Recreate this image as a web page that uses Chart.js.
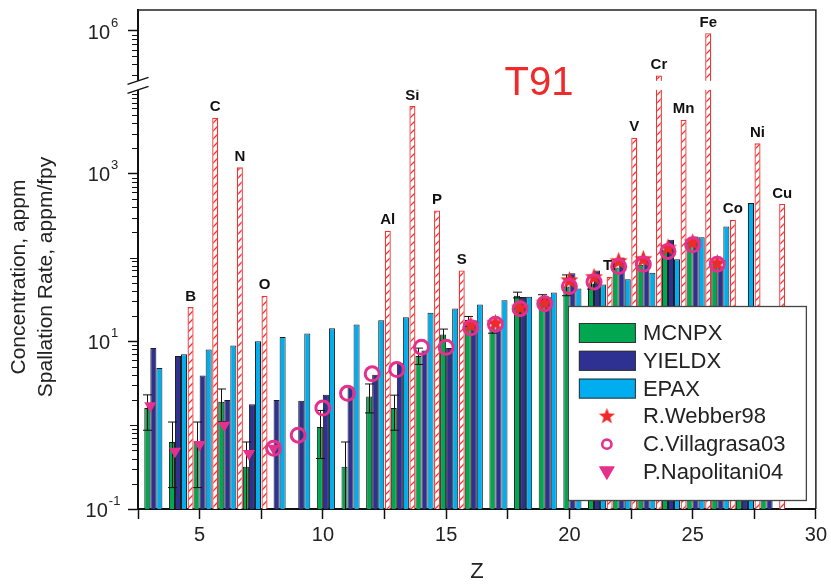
<!DOCTYPE html>
<html>
<head>
<meta charset="utf-8">
<script src="https://cdn.jsdelivr.net/npm/chart.js@4.4.1/dist/chart.umd.min.js"></script>
<style>
  html, body { margin: 0; padding: 0; background: #fff; }
  canvas { display: block; }
</style>
</head>
<body>
<canvas id="chart" width="831" height="585"></canvas>
<script>
// columns: atomic number Z, 3 (Li) .. 29 (Cu)
const zValues = [3, 4, 5, 6, 7, 8, 9, 10, 11, 12, 13, 14, 15, 16, 17, 18, 19, 20, 21, 22, 23, 24, 25, 26, 27, 28, 29];
const mcnpx = [1.6, 0.63, 0.64, 1.9, 0.32, null, null, 0.95, 0.32, 2.2, 1.6, 6.7, 12.1, 18, 14.3, 35, 33, 45, 49, 76, 82, 125, 150, 85, 15, 10, null];
const mcnpxLow = [0.87, 0.18, 0.18, 1.1, 0.09, null, null, 0.4, 0.09, 1.4, 0.87, 5.3, 10.1, 15, 12.5, 33, 30, 35, 42, null, null, null, null, null, null, null, null];
const mcnpxHigh = [2.3, 1.09, 1.09, 2.7, 0.63, null, null, 1.5, 0.63, 3.1, 2.28, 8.3, 14.0, 19.8, 16.2, 38.6, 36, 62, 58, null, null, null, null, null, null, null, null];
const yieldx = [8.3, 6.7, 3.9, 2.0, 1.78, 2.0, 1.95, 2.3, 2.9, 4.0, 5.5, 7.8, 8.3, 17.8, 14.3, 33.7, 33.7, 65, 70, 100, 95, 163, 178, 78, 20, 12, null];
const epax = [4.8, 7.0, 8.0, 8.9, 10, 11.3, 12.4, 14.3, 15.9, 17.8, 19.4, 22, 24.7, 27.6, 30.9, 34, 38.3, 42.7, 47.6, 55, 66, 95, 175, 235, 446, null, null];

// measured concentrations in T91 (hatched bars)
const measZ = [5, 6, 7, 8, 13, 14, 15, 16, 22, 23, 24, 25, 26, 27, 28, 29];
const measNames = ["B", "C", "N", "O", "Al", "Si", "P", "S", "Ti", "V", "Cr", "Mn", "Fe", "Co", "Ni", "Cu"];
const measured = [25.6, 4650, 1190, 35, 209, 6400, 363, 70, 59, 2690, 2.94e5, 4390, 9.4e5, 283, 2300, 435];

// experiments
const webberZ = [16, 17, 18, 19, 20, 21, 22, 23, 24, 25, 26];
const webber = [15.5, 16.4, 25, 28.5, 53, 58, 90, 95, 130, 150, 85];
const villagrasaZ = [8, 9, 10, 11, 12, 13, 14, 15, 16, 17, 18, 19, 20, 21, 22, 23, 24, 25, 26];
const villagrasa = [0.53, 0.76, 1.6, 2.4, 4.1, 4.6, 8.5, 8.5, 14.5, 16, 24.5, 28, 45, 51, 78, 83, 118, 142, 83];
const napolitaniZ = [3, 4, 5, 6, 7, 8];
const napolitani = [1.7, 0.49, 0.59, 1.0, 0.46, 0.53];

// y axis
const yMajor = [0.1, 10, 1000, 1e6];
const yMajorExp = ["-1", "1", "3", "6"];

const GREEN = "#00a650";
const NAVY = "#2e3192";
const SKY = "#00aeef";
const RED = "#ee2a2a";
const HATCH_RED = "#f03434";
const PINK = "#e6318c";
const FONT = '"Liberation Sans", Arial, Helvetica, sans-serif';

Chart.defaults.font.family = FONT;

// log axis with a break between 1e4 and ~2.5e5
const BREAK_LO = 4;
const BREAK_HI = 5.405;
const BREAK_GAP = 0.107;

function toU(v) {
  const L = Math.log10(v);
  if (L <= BREAK_LO) return L;
  if (L >= BREAK_HI) return L - (BREAK_HI - BREAK_LO) + BREAK_GAP;
  return BREAK_LO + (BREAK_GAP * (L - BREAK_LO)) / (BREAK_HI - BREAK_LO);
}

function fromU(u) {
  if (u <= BREAK_LO) return 10 ** u;
  if (u >= BREAK_LO + BREAK_GAP) return 10 ** (u - BREAK_GAP + (BREAK_HI - BREAK_LO));
  return 10 ** (BREAK_LO + ((u - BREAK_LO) / BREAK_GAP) * (BREAK_HI - BREAK_LO));
}

class BrokenLogScale extends Chart.Scale {
  determineDataLimits() {
    this.min = this.options.min;
    this.max = this.options.max;
    this._u0 = toU(this.min);
    this._u1 = toU(this.max);
  }
  buildTicks() {
    return yMajor.map((v) => ({ value: v }));
  }
  configure() {
    super.configure();
    this._u0 = toU(this.min);
    this._u1 = toU(this.max);
  }
  getLabelForValue(v) {
    return String(v);
  }
  getPixelForValue(v) {
    if (!(v > 0)) v = this.min;
    return this.getPixelForDecimal((toU(v) - this._u0) / (this._u1 - this._u0));
  }
  getValueForPixel(p) {
    return fromU(this._u0 + this.getDecimalForPixel(p) * (this._u1 - this._u0));
  }
}
BrokenLogScale.id = "brokenLog";
BrokenLogScale.defaults = {};
Chart.register(BrokenLogScale);

function makeHatch() {
  const c = document.createElement("canvas");
  c.width = 8;
  c.height = 8;
  const g = c.getContext("2d");
  g.fillStyle = "#fff";
  g.fillRect(0, 0, 8, 8);
  g.strokeStyle = HATCH_RED;
  g.lineWidth = 1.3;
  g.beginPath();
  g.moveTo(0, 8);
  g.lineTo(8, 0);
  g.moveTo(-1, 1);
  g.lineTo(1, -1);
  g.moveTo(7, 9);
  g.lineTo(9, 7);
  g.stroke();
  return g.createPattern(c, "repeat");
}

function makeStar(outer, inner, color) {
  const size = Math.ceil(outer * 2 + 2);
  const c = document.createElement("canvas");
  c.width = size;
  c.height = size;
  const g = c.getContext("2d");
  g.translate(size / 2, size / 2);
  g.beginPath();
  for (let i = 0; i < 10; i++) {
    const r = i % 2 ? inner : outer;
    const a = -Math.PI / 2 + (i * Math.PI) / 5;
    g.lineTo(r * Math.cos(a), r * Math.sin(a));
  }
  g.closePath();
  g.fillStyle = color;
  g.fill();
  return c;
}

const starImg = makeStar(9.5, 4, RED);
const legendStar = makeStar(8.5, 3.6, RED);

function series(xs, ys) {
  return xs.map((x, i) => ({ x: x, y: ys[i] })).filter((p) => p.y !== null);
}

const mcnpxPoints = zValues
  .map((z, i) => ({ x: z, y: mcnpx[i], lo: mcnpxLow[i], hi: mcnpxHigh[i] }))
  .filter((p) => p.y !== null);

const barStyle = { borderColor: "#1c1c1c", borderWidth: 1 };

// index of datasets used by plugins
const MEAS_INDEX = 3;
const MCNPX_INDEX = 4;

const errorBars = {
  id: "errorBars",
  afterDatasetDraw(chart, args) {
    if (args.index !== MCNPX_INDEX) return;
    const { ctx, chartArea } = chart;
    const y = chart.scales.y;
    const data = chart.data.datasets[MCNPX_INDEX].data;
    ctx.save();
    ctx.beginPath();
    ctx.rect(chartArea.left, chartArea.top, chartArea.right - chartArea.left, chartArea.bottom - chartArea.top);
    ctx.clip();
    ctx.strokeStyle = "#111";
    ctx.lineWidth = 1;
    args.meta.data.forEach((bar, j) => {
      const p = data[j];
      if (p.lo == null) return;
      const yl = y.getPixelForValue(p.lo);
      const yh = y.getPixelForValue(p.hi);
      const x = Math.round(bar.x) + 0.5;
      ctx.beginPath();
      ctx.moveTo(x, yl);
      ctx.lineTo(x, yh);
      ctx.moveTo(x - 4.5, yh);
      ctx.lineTo(x + 4.5, yh);
      ctx.moveTo(x - 4.5, yl);
      ctx.lineTo(x + 4.5, yl);
      ctx.stroke();
    });
    ctx.restore();
  },
};

const elementLabels = {
  id: "elementLabels",
  afterDatasetDraw(chart, args) {
    if (args.index !== MEAS_INDEX) return;
    const { ctx } = chart;
    ctx.save();
    ctx.font = "bold 15px " + FONT;
    ctx.fillStyle = "#111";
    ctx.textAlign = "center";
    ctx.textBaseline = "bottom";
    args.meta.data.forEach((bar, j) => {
      ctx.fillText(measNames[j], bar.x, bar.y - 3);
    });
    ctx.restore();
  },
};

const decorations = {
  id: "decorations",
  afterDatasetsDraw(chart) {
    const { ctx, chartArea } = chart;
    const y = chart.scales.y;
    const gTop = y.getPixelForValue(10 ** BREAK_HI);
    const gBot = y.getPixelForValue(10 ** BREAK_LO);
    ctx.save();
    // gap of the axis break
    ctx.fillStyle = "#fff";
    ctx.fillRect(chartArea.left - 2, gTop, chartArea.right - chartArea.left + 1, gBot - gTop);
    // frame top and right
    ctx.strokeStyle = "#222";
    ctx.lineWidth = 1.5;
    ctx.beginPath();
    ctx.moveTo(chartArea.left, chartArea.top);
    ctx.lineTo(chartArea.right, chartArea.top);
    ctx.lineTo(chartArea.right, chartArea.bottom);
    ctx.stroke();
    // minor ticks on the y axis
    ctx.strokeStyle = "#111";
    ctx.lineWidth = 1;
    for (let k = -1; k <= 6; k++) {
      for (let m = 1; m <= 9; m++) {
        const v = m * 10 ** k;
        const L = Math.log10(v);
        if (v < y.min || v > y.max) continue;
        if (L > BREAK_LO + 1e-9 && L < BREAK_HI) continue;
        if (yMajor.some((t) => Math.abs(Math.log10(t) - L) < 1e-9)) continue;
        const py = Math.round(y.getPixelForValue(v)) + 0.5;
        const len = m === 1 ? 8 : 6;
        ctx.beginPath();
        ctx.moveTo(chartArea.left - len, py);
        ctx.lineTo(chartArea.left, py);
        ctx.stroke();
      }
    }
    ctx.restore();
  },
  afterDraw(chart) {
    const { ctx, chartArea } = chart;
    const y = chart.scales.y;
    const gTop = y.getPixelForValue(10 ** BREAK_HI);
    const gBot = y.getPixelForValue(10 ** BREAK_LO);
    const ax = chartArea.left;
    ctx.save();
    // break marks
    ctx.fillStyle = "#fff";
    ctx.beginPath();
    ctx.moveTo(ax - 10, gTop + 3.5);
    ctx.lineTo(ax + 10, gTop - 3.5);
    ctx.lineTo(ax + 10, gBot - 3.5);
    ctx.lineTo(ax - 10, gBot + 3.5);
    ctx.closePath();
    ctx.fill();
    ctx.strokeStyle = "#111";
    ctx.lineWidth = 1.5;
    ctx.beginPath();
    ctx.moveTo(ax - 10.5, gTop + 3.5);
    ctx.lineTo(ax + 10.5, gTop - 3.5);
    ctx.moveTo(ax - 10.5, gBot + 3.5);
    ctx.lineTo(ax + 10.5, gBot - 3.5);
    ctx.stroke();

    // y tick labels 10^n
    ctx.fillStyle = "#222";
    ctx.textBaseline = "middle";
    ctx.textAlign = "left";
    yMajor.forEach((v, i) => {
      const py = y.getPixelForValue(v);
      ctx.font = "20px " + FONT;
      const wBase = ctx.measureText("10").width;
      ctx.font = "13px " + FONT;
      const wExp = ctx.measureText(yMajorExp[i]).width;
      const x0 = 103 - (wBase + 1 + wExp) / 2;
      ctx.font = "20px " + FONT;
      ctx.fillText("10", x0, py + 2);
      ctx.font = "13px " + FONT;
      ctx.fillText(yMajorExp[i], x0 + wBase + 1, py - 8);
    });

    // y axis title
    ctx.font = "21px " + FONT;
    ctx.textAlign = "center";
    ctx.save();
    ctx.translate(19, 277);
    ctx.rotate(-Math.PI / 2);
    ctx.fillText("Concentration, appm", 0, 0);
    ctx.restore();
    ctx.save();
    ctx.translate(46, 277);
    ctx.rotate(-Math.PI / 2);
    ctx.fillText("Spallation Rate, appm/fpy", 0, 0);
    ctx.restore();

    // material name
    ctx.font = "40px " + FONT;
    ctx.fillStyle = RED;
    ctx.fillText("T91", 539, 84);

    // legend
    const bx = chartArea.right - 248;
    const by = chartArea.bottom - 203;
    const bw = 238;
    const bh = 194;
    ctx.fillStyle = "#fff";
    ctx.fillRect(bx, by, bw, bh);
    ctx.strokeStyle = "#444";
    ctx.lineWidth = 1.3;
    ctx.strokeRect(bx + 0.5, by + 0.5, bw, bh);
    const order = [4, 5, 6, 1, 0, 2];
    ctx.textAlign = "left";
    ctx.textBaseline = "middle";
    order.forEach((di, i) => {
      const ds = chart.data.datasets[di];
      const ry = by + 27 + i * 27.8;
      const mx = bx + 39;
      if (ds.type === "scatter") {
        if (ds.pointStyle === starImg) {
          ctx.drawImage(legendStar, mx - legendStar.width / 2, ry - legendStar.height / 2);
        } else if (ds.pointStyle === "circle") {
          ctx.strokeStyle = PINK;
          ctx.lineWidth = 2.6;
          ctx.beginPath();
          ctx.arc(mx, ry, 4.6, 0, Math.PI * 2);
          ctx.stroke();
        } else {
          ctx.fillStyle = PINK;
          Chart.helpers.drawPoint(ctx, { pointStyle: "triangle", radius: 9, borderWidth: 0, rotation: 180 }, mx, ry - 1);
          ctx.fill();
        }
      } else {
        ctx.fillStyle = ds.backgroundColor;
        ctx.fillRect(bx + 11, ry - 10, 57, 20);
        ctx.strokeStyle = "#333";
        ctx.lineWidth = 1;
        ctx.strokeRect(bx + 11.5, ry - 9.5, 56, 19);
      }
      ctx.fillStyle = "#222";
      ctx.font = "22px " + FONT;
      ctx.fillText(ds.label, bx + 75, ry + 1);
    });
    ctx.restore();
  },
};

const chart = new Chart(document.getElementById("chart"), {
  type: "bar",
  data: {
    datasets: [
      {
        type: "scatter",
        label: "C.Villagrasa03",
        data: series(villagrasaZ, villagrasa),
        pointStyle: "circle",
        pointRadius: 7,
        pointBorderWidth: 3,
        pointBorderColor: PINK,
        pointBackgroundColor: "rgba(0,0,0,0)",
      },
      {
        type: "scatter",
        label: "R.Webber98",
        data: series(webberZ, webber),
        pointStyle: starImg,
        pointRadius: 9,
      },
      {
        type: "scatter",
        label: "P.Napolitani04",
        data: series(napolitaniZ, napolitani),
        pointStyle: "triangle",
        pointRotation: 180,
        pointRadius: 7,
        pointBorderWidth: 0,
        pointBackgroundColor: PINK,
      },
      {
        label: "T91",
        data: series(measZ, measured),
        backgroundColor: makeHatch(),
        borderColor: HATCH_RED,
        borderWidth: 1.3,
      },
      { label: "MCNPX", data: mcnpxPoints, backgroundColor: GREEN, ...barStyle },
      { label: "YIELDX", data: series(zValues, yieldx), backgroundColor: NAVY, ...barStyle },
      { label: "EPAX", data: series(zValues, epax), backgroundColor: SKY, ...barStyle },
    ],
  },
  options: {
    responsive: false,
    animation: false,
    layout: { padding: { top: 9, right: 13, left: 0, bottom: 0 } },
    datasets: {
      bar: { categoryPercentage: 0.98, barPercentage: 1 },
    },
    scales: {
      x: {
        type: "linear",
        min: 2.5,
        max: 30,
        offset: false,
        grid: { offset: false, drawOnChartArea: false, tickLength: 10, tickColor: "#111", tickWidth: 1.5 },
        border: { color: "#111", width: 2 },
        ticks: {
          stepSize: 2.5,
          autoSkip: false,
          maxRotation: 0,
          padding: 4,
          color: "#222",
          font: { size: 20 },
          callback: (v) => (v % 5 === 0 ? String(v) : ""),
        },
        title: { display: true, text: "Z", color: "#222", font: { size: 22 }, padding: 0 },
        afterFit: (s) => {
          s.height = 76;
        },
      },
      y: {
        type: "brokenLog",
        min: 0.1,
        max: 1.78e6,
        grid: { drawOnChartArea: false, tickLength: 10, tickColor: "#111", tickWidth: 1.5 },
        border: { color: "#111", width: 2 },
        ticks: { display: false },
        afterFit: (s) => {
          s.width = 138;
        },
      },
    },
    plugins: {
      legend: { display: false },
      tooltip: { enabled: false },
    },
  },
  plugins: [errorBars, elementLabels, decorations],
});
</script>
</body>
</html>
